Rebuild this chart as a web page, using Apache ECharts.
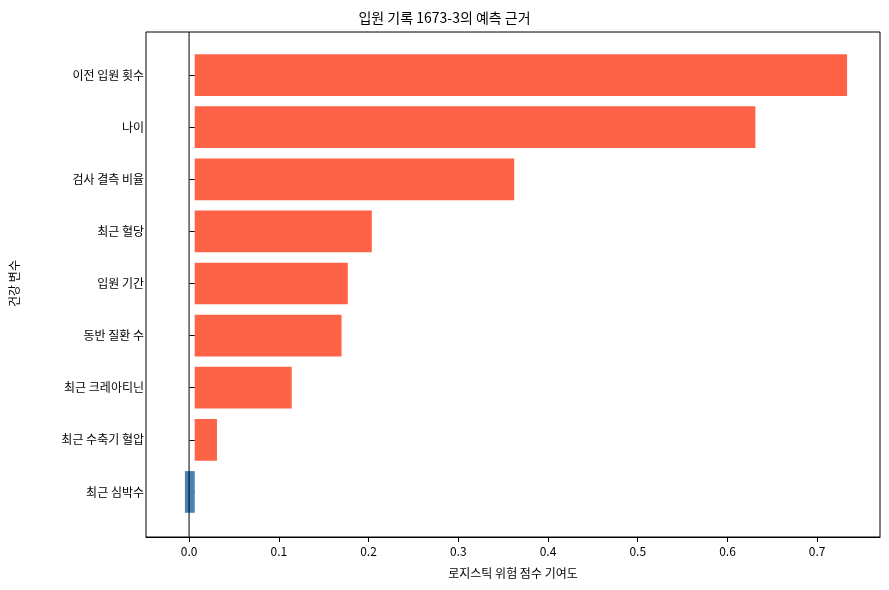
<!DOCTYPE html><html><head><meta charset="utf-8"><script src="https://cdn.jsdelivr.net/npm/echarts@6/dist/echarts.min.js"></script></head><body style="margin:0"><div id="c" style="width:889px;height:590px"></div><script>
const categories=["이전 입원 횟수","나이","검사 결측 비율","최근 혈당","입원 기간","동반 질환 수","최근 크레아티닌","최근 수축기 혈압","최근 심박수"];
const values=[0.733,0.630,0.359,0.199,0.172,0.165,0.109,0.025,-0.011];
const xTicks=[0,0.1,0.2,0.3,0.4,0.5,0.6,0.7];
const F='"Noto Sans CJK KR", sans-serif';
const ch=echarts.init(document.getElementById('c'));
ch.setOption({animation:false,
title:{text:"입원 기록 1673-3의 예측 근거",left:'center',top:6,textStyle:{fontFamily:F,fontSize:14,fontWeight:'normal',color:'#000'}},
grid:[{left:146,right:9,top:32,bottom:53},{left:146,right:9,top:49,height:469}],
xAxis:[{gridIndex:0,type:'value',min:-0.048,max:0.77,name:'로지스틱 위험 점수 기여도',nameLocation:'middle',nameGap:30,nameTextStyle:{fontFamily:F,fontSize:12,color:'#000'},
 axisLine:{onZero:false,lineStyle:{color:'#000'}},splitLine:{show:false},
 axisTick:{show:true,customValues:xTicks,lineStyle:{color:'#000'}},
 axisLabel:{customValues:xTicks,formatter:v=>v.toFixed(1),fontFamily:F,fontSize:12,color:'#000'}},
 {gridIndex:1,type:'value',min:-0.048,max:0.77,show:false}],
yAxis:[{gridIndex:0,type:'value',min:0,max:1,show:false},
 {gridIndex:1,type:'category',inverse:true,data:categories,name:'건강 변수',nameLocation:'middle',nameGap:132,nameTextStyle:{fontFamily:F,fontSize:12,color:'#000'},
 axisLine:{show:false},splitLine:{show:false},
 axisTick:{show:true,alignWithLabel:true,lineStyle:{color:'#000'}},
 axisLabel:{fontFamily:F,fontSize:12,color:'#000'}}],
graphic:[{type:'rect',shape:{x:146,y:32,width:734,height:505},style:{fill:'none',stroke:'#000',lineWidth:1},z:100}],
series:[{type:'bar',xAxisIndex:1,yAxisIndex:1,barWidth:41.7,data:values.map(v=>({value:v,itemStyle:{color:v>=0?'#FF6347':'#4682B4'}}))},
 {type:'line',xAxisIndex:0,yAxisIndex:0,symbol:'none',z:10,lineStyle:{color:'#000',width:1},data:[[0,0],[0,1]]}]
});
</script></body></html>
